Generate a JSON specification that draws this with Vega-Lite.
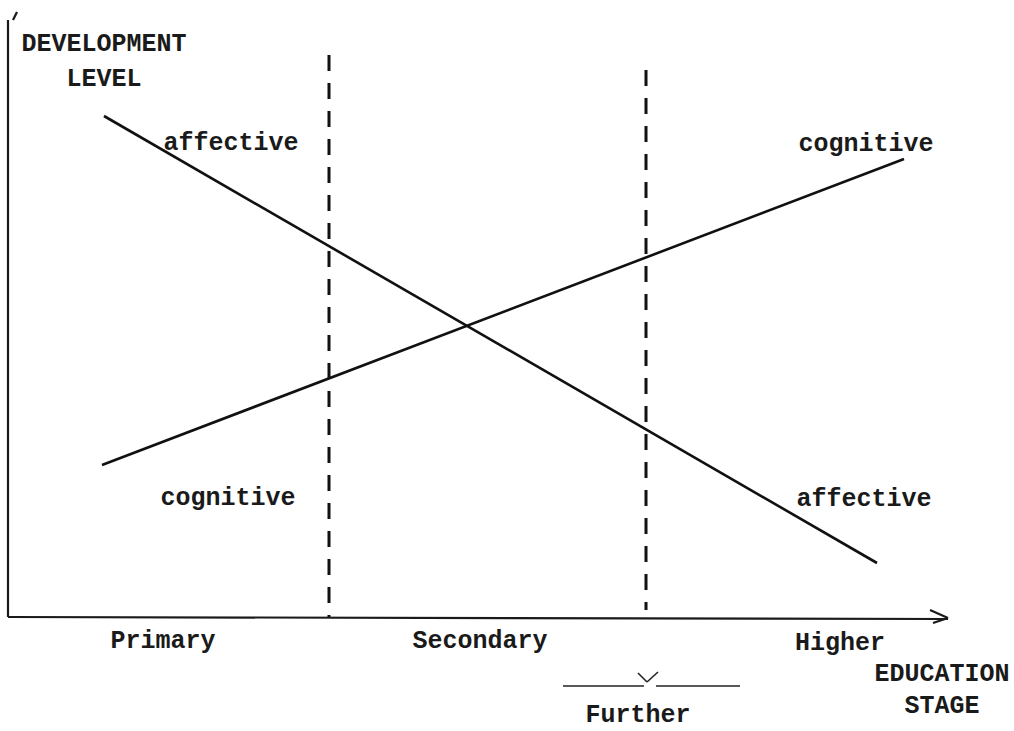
{
  "$schema": "https://vega.github.io/schema/vega-lite/v6.json",
  "width": 1014,
  "height": 731,
  "autosize": {"type": "fit", "contains": "padding"},
  "padding": 0,
  "background": "white",
  "config": {"view": {"stroke": null}},
  "datasets": {
    "segs": [
      {"kind": "curve", "name": "affective", "x": 10.4, "y": 61.5, "x2": 87.7, "y2": 16.8},
      {"kind": "curve", "name": "cognitive", "x": 10.2, "y": 26.6, "x2": 90.4, "y2": 57.2},
      {"kind": "axis", "name": "y axis", "x": 0.8, "y": 71.1, "x2": 0.8, "y2": 11.4},
      {"kind": "axis", "name": "x axis", "x": 0.8, "y": 11.4, "x2": 94.8, "y2": 11.2},
      {"kind": "arrow", "name": "arrow upper", "x": 93.0, "y": 12.1, "x2": 94.8, "y2": 11.3},
      {"kind": "arrow", "name": "arrow lower", "x": 93.3, "y": 10.8, "x2": 94.8, "y2": 11.3},
      {"kind": "arrow", "name": "y tick", "x": 1.3, "y": 71.1, "x2": 1.7, "y2": 71.9},
      {"kind": "dashed", "name": "primary/secondary", "x": 32.9, "y": 67.6, "x2": 32.9, "y2": 11.4},
      {"kind": "dashed", "name": "secondary/higher", "x": 64.6, "y": 66.1, "x2": 64.6, "y2": 12.1},
      {"kind": "further", "name": "further left", "x": 56.3, "y": 4.5, "x2": 64.4, "y2": 4.5},
      {"kind": "further", "name": "further right", "x": 65.6, "y": 4.5, "x2": 74.0, "y2": 4.5},
      {"kind": "further", "name": "v left", "x": 63.8, "y": 5.8, "x2": 64.7, "y2": 4.9},
      {"kind": "further", "name": "v right", "x": 64.7, "y": 4.9, "x2": 65.8, "y2": 5.9}
    ],
    "labels": [
      {"label": "DEVELOPMENT", "x": 10.4, "y": 68.8},
      {"label": "LEVEL", "x": 10.4, "y": 65.3},
      {"label": "affective", "x": 23.1, "y": 58.9},
      {"label": "cognitive", "x": 86.6, "y": 58.8},
      {"label": "cognitive", "x": 22.8, "y": 23.4},
      {"label": "affective", "x": 86.4, "y": 23.3},
      {"label": "Primary", "x": 16.3, "y": 9.1},
      {"label": "Secondary", "x": 48.0, "y": 9.1},
      {"label": "Higher", "x": 84.0, "y": 8.9},
      {"label": "EDUCATION", "x": 94.2, "y": 5.8},
      {"label": "STAGE", "x": 94.2, "y": 2.6},
      {"label": "Further", "x": 63.8, "y": 1.7}
    ]
  },
  "layer": [
    {
      "data": {"name": "segs"},
      "transform": [{"filter": "datum.kind === 'curve'"}],
      "mark": {"type": "rule", "color": "#111111", "strokeWidth": 2.6},
      "encoding": {
        "x": {"field": "x", "type": "quantitative", "scale": {"domain": [0, 101.4], "nice": false, "zero": false}, "axis": null},
        "y": {"field": "y", "type": "quantitative", "scale": {"domain": [0, 73.1], "nice": false, "zero": false}, "axis": null},
        "x2": {"field": "x2"},
        "y2": {"field": "y2"}
      }
    },
    {
      "data": {"name": "segs"},
      "transform": [{"filter": "datum.kind === 'axis' || datum.kind === 'arrow'"}],
      "mark": {"type": "rule", "color": "#1a1a1a", "strokeWidth": 2.2},
      "encoding": {
        "x": {"field": "x", "type": "quantitative", "scale": {"domain": [0, 101.4], "nice": false, "zero": false}, "axis": null},
        "y": {"field": "y", "type": "quantitative", "scale": {"domain": [0, 73.1], "nice": false, "zero": false}, "axis": null},
        "x2": {"field": "x2"},
        "y2": {"field": "y2"}
      }
    },
    {
      "data": {"name": "segs"},
      "transform": [{"filter": "datum.kind === 'dashed'"}],
      "mark": {"type": "rule", "color": "#111111", "strokeWidth": 3, "strokeDash": [16, 12]},
      "encoding": {
        "x": {"field": "x", "type": "quantitative", "scale": {"domain": [0, 101.4], "nice": false, "zero": false}, "axis": null},
        "y": {"field": "y", "type": "quantitative", "scale": {"domain": [0, 73.1], "nice": false, "zero": false}, "axis": null},
        "x2": {"field": "x2"},
        "y2": {"field": "y2"}
      }
    },
    {
      "data": {"name": "segs"},
      "transform": [{"filter": "datum.kind === 'further'"}],
      "mark": {"type": "rule", "color": "#222222", "strokeWidth": 1.6},
      "encoding": {
        "x": {"field": "x", "type": "quantitative", "scale": {"domain": [0, 101.4], "nice": false, "zero": false}, "axis": null},
        "y": {"field": "y", "type": "quantitative", "scale": {"domain": [0, 73.1], "nice": false, "zero": false}, "axis": null},
        "x2": {"field": "x2"},
        "y2": {"field": "y2"}
      }
    },
    {
      "data": {"name": "labels"},
      "mark": {"type": "text", "font": "Liberation Mono", "fontSize": 25, "fontWeight": "bold", "color": "#1a1a1a", "align": "center", "baseline": "middle"},
      "encoding": {
        "x": {"field": "x", "type": "quantitative", "scale": {"domain": [0, 101.4], "nice": false, "zero": false}, "axis": null},
        "y": {"field": "y", "type": "quantitative", "scale": {"domain": [0, 73.1], "nice": false, "zero": false}, "axis": null},
        "text": {"field": "label"}
      }
    }
  ]
}
